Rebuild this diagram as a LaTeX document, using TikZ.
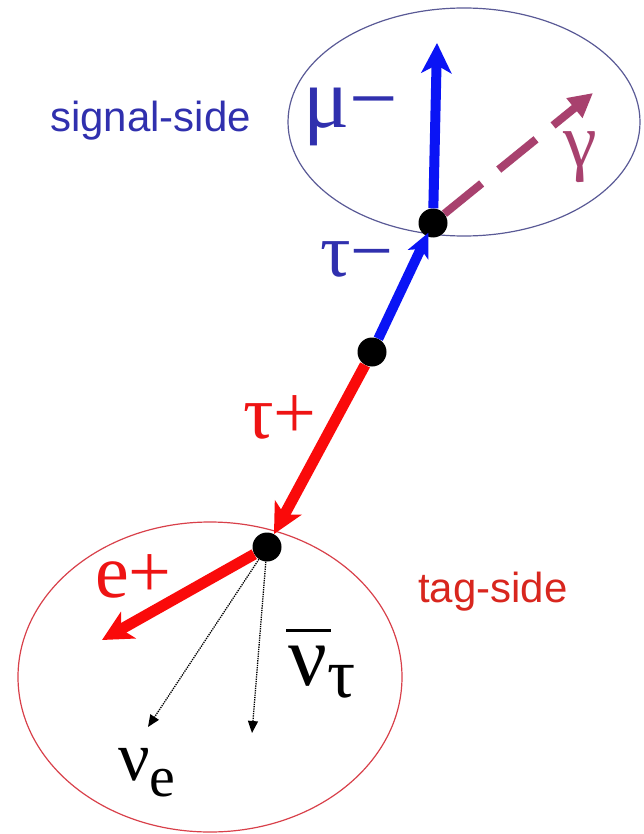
\documentclass[tikz,border=0pt]{standalone}
\usepackage{fontspec}
\setmainfont{Liberation Sans}
\newfontfamily\physfont{Liberation Serif}
\usepackage{tikz}
\usetikzlibrary{arrows.meta}
\definecolor{TrkBlue}{HTML}{0A14F5}
\definecolor{TrkRed}{HTML}{FA0A0A}
\definecolor{SigText}{HTML}{3030AE}
\definecolor{TagText}{HTML}{D8261E}
\definecolor{PartRed}{HTML}{EE1414}
\definecolor{GamPurple}{HTML}{A8416E}
\definecolor{SigLine}{HTML}{5A5A96}
\definecolor{TagLine}{HTML}{D8404A}

\begin{document}
\begin{tikzpicture}[x=1pt, y=-1pt,
  dot/.style={circle, fill=black, inner sep=0pt, minimum size=29pt},
  sidelbl/.style={inner sep=0pt, anchor=base west, font=\fontsize{42}{48}\selectfont},
  partlbl/.style={inner sep=0pt, anchor=base west, font=\physfont\fontsize{76}{80}\selectfont},
  track/.style={line width=10pt},
  bigtip/.style={-{Stealth[length=30pt, width=30pt, inset=8pt]}},
  nutrack/.style={densely dotted, line width=1.3pt, -{Triangle[length=12pt, width=10pt]}}]
  \useasboundingbox (0,0) rectangle (643,834);
  % the two event hemispheres
  \draw[SigLine, line width=1.2pt] (464,122) ellipse [x radius=176pt, y radius=114pt];
  \draw[TagLine, line width=1.2pt] (210,677) ellipse [x radius=192pt, y radius=155pt];
  % vertices
  \node[dot] (vtop) at (433,223) {};
  \node[dot] (vmid) at (372,352) {};
  \node[dot] (vbot) at (267,547) {};
  % free ends of the daughters
  \coordinate (muEnd) at (437,43);
  \coordinate (gamEnd) at (593,93);
  \coordinate (eEnd) at (102,640);
  \coordinate (nueEnd) at (148,727);
  \coordinate (nutEnd) at (252,733);
  % tau pair from the mid vertex
  \draw[track, TrkBlue, -{Stealth[length=24pt, width=22pt, inset=6pt]}, shorten >=-4pt] (vmid) -- (vtop);
  \draw[track, TrkRed, line width=11pt, bigtip] (vmid) -- (vbot);
  % signal-side decay
  \draw[track, TrkBlue, bigtip] (vtop) -- (muEnd);
  \draw[GamPurple, line width=8pt, dash pattern=on 48pt off 22pt,
        -{Triangle[length=24pt, width=24pt]}] (vtop) -- (gamEnd);
  % tag-side decay
  \draw[track, TrkRed, line width=11pt, bigtip] (vbot) -- (eEnd);
  \draw[nutrack] (vbot) -- (nueEnd);
  \draw[nutrack] (vbot) -- (nutEnd);
  % labels
  \node[sidelbl, text=SigText] (sigLbl) at (50,132) {signal-side};
  \node[sidelbl, text=TagText] (tagLbl) at (418,602) {tag-side};
  \node[partlbl, text=SigText, font=\physfont\fontsize{86}{90}\selectfont] (muLbl) at (303,128) {μ−};
  \node[partlbl, text=SigText] (tauMLbl) at (320,276) {τ−};
  \node[partlbl, text=PartRed] (tauPLbl) at (243,438) {τ+};
  \node[partlbl, text=PartRed] (eLbl) at (95,597) {e+};
  \node[partlbl, text=GamPurple] (gamLbl) at (563,167) {γ};
  \node[partlbl, font=\physfont\fontsize{70}{74}\selectfont] (nueLbl) at (118,780)
    {ν\raisebox{-0.24em}{\fontsize{58}{60}\selectfont e}};
  \node[partlbl, font=\physfont\fontsize{86}{90}\selectfont] (nutLbl) at (288,685)
    {\rlap{\kern-0.02em\rule[0.62em]{0.52em}{0.03em}}ν\raisebox{-0.14em}{\fontsize{70}{72}\selectfont τ}};
\end{tikzpicture}
\end{document}
